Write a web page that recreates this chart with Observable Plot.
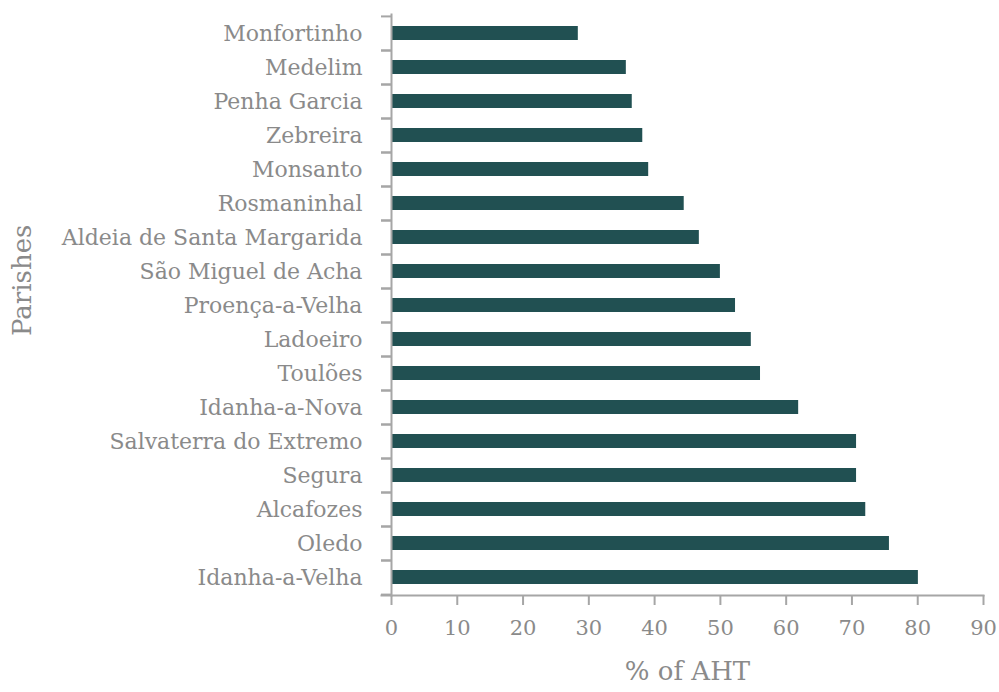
<!DOCTYPE html>
<html>
<head>
<meta charset="utf-8">
<script src="https://cdn.jsdelivr.net/npm/d3@7"></script>
<script src="https://cdn.jsdelivr.net/npm/@observablehq/plot@0.6"></script>
<style>
  html, body { margin: 0; padding: 0; background: #fff; }
  #chart svg { font-family: "DejaVu Serif", serif; }
</style>
</head>
<body>
<div id="chart"></div>
<script>
const parishes = [
  "Monfortinho", "Medelim", "Penha Garcia", "Zebreira", "Monsanto", "Rosmaninhal",
  "Aldeia de Santa Margarida", "São Miguel de Acha", "Proença-a-Velha", "Ladoeiro",
  "Toulões", "Idanha-a-Nova", "Salvaterra do Extremo", "Segura", "Alcafozes",
  "Oledo", "Idanha-a-Velha"
];
const values = [28.4, 35.7, 36.6, 38.2, 39.1, 44.5, 46.8, 50.0, 52.3, 54.7, 56.1, 61.9, 70.7, 70.7, 72.1, 75.7, 80.1];
const xTicks = [0, 10, 20, 30, 40, 50, 60, 70, 80, 90];
const xTitle = "% of AHT";
const yTitle = "Parishes";

const data = parishes.map((p, i) => ({parish: p, value: values[i]}));

const W = 999, H = 692;
const mTop = 14, mBottom = 97, mLeft = 391, mRight = 16;
const step = (H - mTop - mBottom) / parishes.length;
const axisColor = "#a6a6a6";
const textColor = "#8a8a8a";
const font = "DejaVu Serif, serif";

const chart = Plot.plot({
  width: W,
  height: H,
  marginTop: mTop,
  marginBottom: mBottom,
  marginLeft: mLeft,
  marginRight: mRight,
  style: {fontFamily: font, color: textColor, background: "#fff"},
  x: {domain: [0, 90]},
  y: {domain: parishes, paddingInner: 0.59, paddingOuter: 0.295},
  marks: [
    Plot.barX(data, {x: "value", y: "parish", fill: "#215052"}),
    // tick marks at band boundaries
    Plot.axisY({tickSize: 10, dy: step / 2, tickFormat: null, stroke: axisColor, strokeWidth: 2, label: null}),
    Plot.axisY({tickSize: 10, dy: -step / 2, tickFormat: null, stroke: axisColor, strokeWidth: 2, label: null}),
    Plot.axisY({tickSize: 0, tickPadding: 29, fontSize: 22, fill: textColor, label: null}),
    Plot.frame({anchor: "left", stroke: axisColor, strokeWidth: 2}),
    Plot.frame({anchor: "bottom", stroke: axisColor, strokeWidth: 2, insetLeft: -10}),
    Plot.axisX({ticks: xTicks, tickSize: 10, tickPadding: 15, fontSize: 21, stroke: axisColor, strokeWidth: 2, fill: textColor, label: null}),
    Plot.text([xTitle], {frameAnchor: "bottom", dy: 84, fontSize: 26, fill: textColor}),
    Plot.text([yTitle], {frameAnchor: "left", dx: -369, dy: 31, rotate: -90, fontSize: 26, fill: textColor})
  ]
});
document.getElementById("chart").appendChild(chart);
</script>
</body>
</html>
